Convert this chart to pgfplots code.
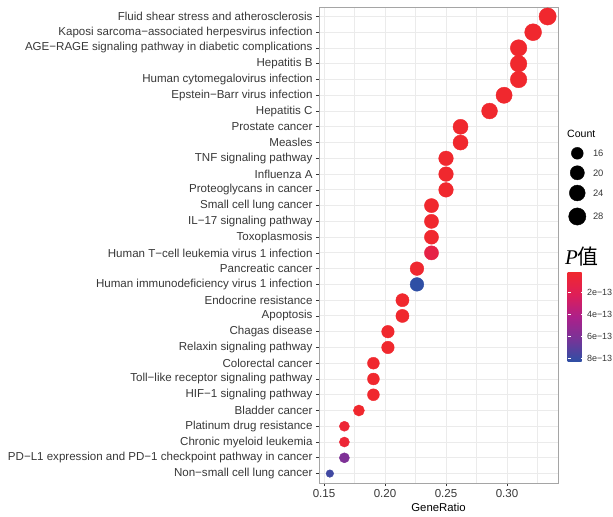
\documentclass[border=0pt]{standalone}
\usepackage{pgfplots}
\pgfplotsset{compat=1.18}
\usepackage{pgfplotstable}
\usepackage{fontspec}
\setmainfont{Liberation Sans}
\newfontfamily\cjk{Noto Sans CJK SC}
\newfontfamily\serifP{Liberation Serif}

\definecolor{txt}{RGB}{55,55,55}
\definecolor{gridc}{RGB}{235,235,235}
\definecolor{border}{RGB}{165,165,165}
\definecolor{tickc}{RGB}{51,51,51}
\definecolor{legc}{RGB}{20,20,20}

\pgfplotstableread[col sep=comma]{
y,ratio,count,p,name
1,0.3333,28,0.13,Fluid shear stress and atherosclerosis
2,0.3214,27,0.13,Kaposi sarcoma−associated herpesvirus infection
3,0.3095,26,0.13,AGE−RAGE signaling pathway in diabetic complications
4,0.3095,26,0.13,Hepatitis B
5,0.3095,26,0.13,Human cytomegalovirus infection
6,0.2976,25,0.13,Epstein−Barr virus infection
7,0.2857,24,0.13,Hepatitis C
8,0.2619,22,0.13,Prostate cancer
9,0.2619,22,0.13,Measles
10,0.2500,21,0.13,TNF signaling pathway
11,0.2500,21,0.13,Influenza A
12,0.2500,21,0.13,Proteoglycans in cancer
13,0.2381,20,0.13,Small cell lung cancer
14,0.2381,20,0.13,IL−17 signaling pathway
15,0.2381,20,0.13,Toxoplasmosis
16,0.2381,20,1.3,Human T−cell leukemia virus 1 infection
17,0.2262,19,0.2,Pancreatic cancer
18,0.2262,19,8.3,Human immunodeficiency virus 1 infection
19,0.2143,18,0.13,Endocrine resistance
20,0.2143,18,0.13,Apoptosis
21,0.2024,17,0.13,Chagas disease
22,0.2024,17,0.13,Relaxin signaling pathway
23,0.1905,16,0.13,Colorectal cancer
24,0.1905,16,0.13,Toll−like receptor signaling pathway
25,0.1905,16,0.13,HIF−1 signaling pathway
26,0.1786,15,0.13,Bladder cancer
27,0.1667,14,0.5,Platinum drug resistance
28,0.1667,14,0.5,Chronic myeloid leukemia
29,0.1667,14,6.0,PD−L1 expression and PD−1 checkpoint pathway in cancer
30,0.1548,13,7.8,Non−small cell lung cancer
}\data

\pgfplotstableread{
x y count
17.3 13.3 16
17.3 32.8 20
17.3 53.0 24
17.3 76.5 28
}\legdata

\pgfplotsset{
  sizemap/.style={
    visualization depends on={\thisrow{count} \as \cnt},
    scatter/@pre marker code/.append style={/tikz/mark size={3.8+4.85*sqrt((\cnt-13)/15)}}
  }
}

\begin{document}
\begin{tikzpicture}
\useasboundingbox (0,0) rectangle (613bp,517bp);
\begin{axis}[
  at={(319bp,34bp)}, anchor=south west,
  scale only axis, width=239bp, height=476bp,
  xmin=0.1459, xmax=0.3418, ymin=0.4, ymax=30.6, y dir=reverse,
  xtick={0.15,0.2,0.25,0.3}, xticklabels={0.15,0.20,0.25,0.30},
  minor xtick={0.175,0.225,0.275,0.325},
  ytick={1,...,30}, yticklabels from table={\data}{name},
  grid=both,
  major grid style={color=gridc, line width=0.9bp},
  minor grid style={color=gridc, line width=0.45bp},
  axis line style={color=border, line width=0.8bp},
  tick style={color=tickc, line width=0.6bp},
  major tick length=3bp, minor tick length=0pt,
  tick align=outside, xtick pos=bottom, ytick pos=left,
  ticklabel style={font=\fontsize{11.6}{13}\selectfont, color=txt},
  xlabel={GeneRatio},
  xlabel style={font=\fontsize{11.4}{13}\selectfont, color=black, yshift=1bp},
  colormap={pv}{rgb255=(45,80,165) rgb255=(118,52,152) rgb255=(172,32,138) rgb255=(222,30,88) rgb255=(240,40,46)},
  point meta min=-8.35, point meta max=-0.13,
  colorbar,
  colorbar style={
    at={(parent axis.north east)}, anchor=north west,
    xshift=1bp, yshift=-265bp,
    scale only axis, width=16bp, height=90bp,
    ytick={-8,-6,-4,-2}, yticklabels={8e−13,6e−13,4e−13,2e−13},
    yticklabel style={font=\fontsize{9}{10}\selectfont, color=txt},
    ytick align=inside, ytick pos=both, yticklabel pos=right,
    major tick length=3bp,
    tick style={color=white, line width=0.6bp},
    axis line style={draw=none},
    axis on top,
  },
]
\addplot[scatter, only marks, mark=*, scatter src=explicit,
  scatter/use mapped color={draw=mapped color, fill=mapped color}, sizemap]
  table[x=ratio, y=y, meta expr=-\thisrow{p}] {\data};
\end{axis}

\begin{axis}[
  at={(560bp,377bp)}, anchor=north west,
  scale only axis, width=50bp, height=100bp,
  xmin=0, xmax=50, ymin=0, ymax=100, y dir=reverse,
  hide axis, clip=false,
]
\addplot[scatter, only marks, mark=*, scatter src=explicit,
  scatter/use mapped color={draw=legc, fill=legc},
  nodes near coords={\pgfmathprintnumber[assume math mode=true]{\pgfplotspointmeta}},
  nodes near coords style={anchor=west, inner sep=0pt, xshift=15.5bp, font=\fontsize{9.4}{11}\selectfont, color=txt},
  sizemap]
  table[x=x, y=y, meta=count] {\legdata};
\end{axis}

\node[anchor=west, inner sep=0pt, font=\fontsize{10.6}{12}\selectfont] at (567bp,383bp) {Count};
\node[anchor=west, inner sep=0pt, font=\fontsize{21}{24}\selectfont] at (565bp,260bp) {{\serifP\itshape P}{\cjk 值}};
\end{tikzpicture}
\end{document}
